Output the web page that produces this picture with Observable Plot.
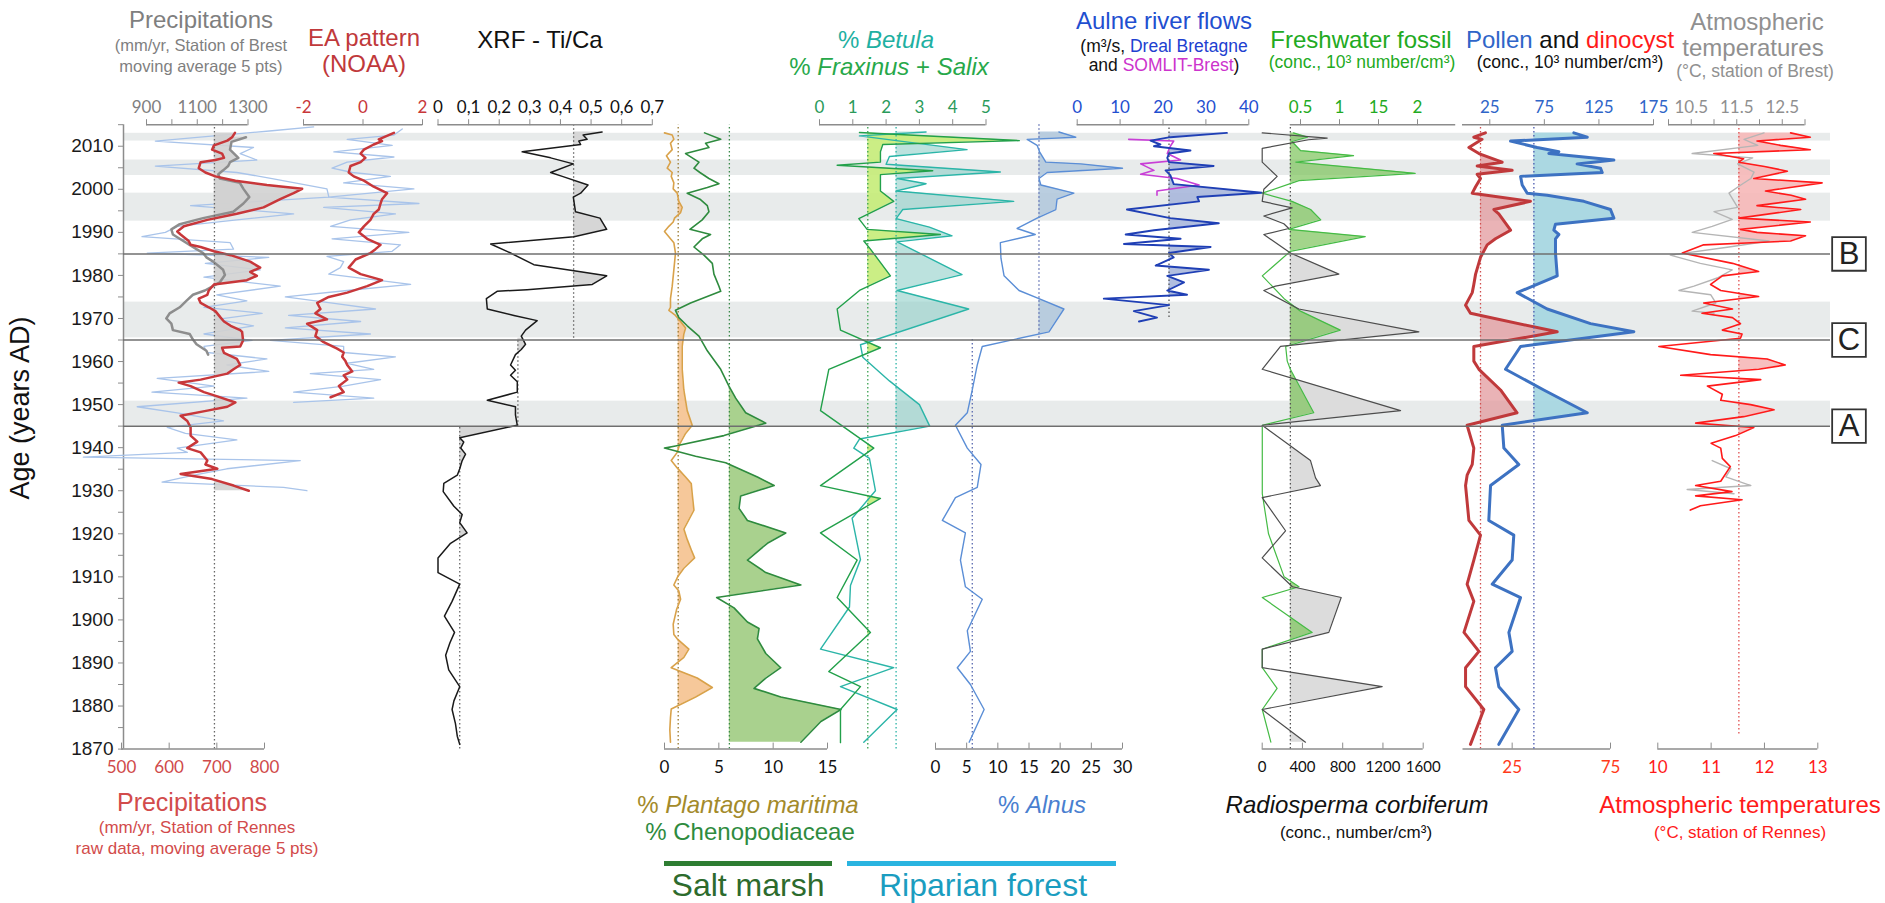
<!DOCTYPE html>
<html><head><meta charset="utf-8">
<script src="https://cdn.jsdelivr.net/npm/d3@7"></script>
<script src="https://cdn.jsdelivr.net/npm/@observablehq/plot@0.6"></script>
<style>
body{margin:0;background:#fff;}
#chart{position:relative;width:1885px;height:903px;overflow:hidden;font-family:"Liberation Sans",Arial,sans-serif;background:#fff;}
#chart svg{position:absolute;left:0;top:0;overflow:visible;}
.t{position:absolute;transform:translate(-50%,-50%);white-space:nowrap;line-height:1;}
.bar{position:absolute;}
</style></head><body><div id="chart"></div>
<script>
// ---------------- DATA ----------------
const yearTicks = [1870,1880,1890,1900,1910,1920,1930,1940,1950,1960,1970,1980,1990,2000,2010];
const yearMinorTicks = [1875,1885,1895,1905,1915,1925,1935,1945,1955,1965,1975,1985,1995,2005,2015];
const bands = [[1945,1950.8],[1965.5,1973.8],[1992.6,1999.1],[2003.2,2006.8],[2011.2,2013]];
const events = [[1945,"A"],[1965,"C"],[1985,"B"]];

const precipRennesTicks = [500,600,700,800];
const precipBrestTicks = [900,1000,1100,1200,1300];
const precipBrestLabels = [900,1100,1300];
const eaTicks = [-2,0,2];
const xrfTicks = [0,0.1,0.2,0.3,0.4,0.5,0.6,0.7];
const xrfTickLabels = ["0","0,1","0,2","0,3","0,4","0,5","0,6","0,7"];
const plantagoTicks = [0,5,10,15];
const betulaTicks = [0,1,2,3,4,5];
const alnusTicks = [0,5,10,15,20,25,30];
const aulneTicks = [0,10,20,30,40];
const freshTicks = [0.5,1,1.5,2];
const freshTickLabels = ["0.5","1","15","2"];
const radioTicks = [0,400,800,1200,1600];
const pollenTicks = [25,75,125,175];
const dinoTicks = [25,75];
const tempBrestTicks = [10,10.5,11,11.5,12,12.5,13];
const tempBrestLabels = [10.5,11.5,12.5];
const tempRennesTicks = [10,11,12,13];

// medians [yearFrom, yearTo, value]
const precipMedian = [[1870,2015,695]];
const xrfMedians = [[1965.4,2015,0.443],[1945,1965.4,0.261],[1870,1945,0.071]];
const plantagoMedian = [[1870,2015,1.26]];
const chenoMedian = [[1870,2015,5.97]];
const fraxMedian = [[1870,2015,1.45]];
const betulaMedian = [[1870,2015,2.3]];
const alnusMedians = [[1965.4,2015,16.6],[1870,1965.4,5.9]];
const aulneMedian = [[1970.2,2015,21.4]];
const radioMedian = [[1870,2015,280]];
const freshMedian = 0.37;
const pollenMedian = [[1870,2015,65.4]];
const dinoMedian = [[1870,2015,8.9]];
const tempMedian = [[1873.5,2015,11.52]];

// series [year, value]
const precipRennes = [[2013.1,738],[2012.1,732],[2011.3,722],[2010.2,694],[2009.2,690],[2008.3,711],[2007.3,715],[2006.8,697],[2006.3,666],[2004.9,662],[2003.9,676],[2003.0,697],[2002.0,739],[2001.0,805],[2000.1,879],[1999.1,861],[1997.7,833],[1995.8,798],[1994.3,742],[1992.9,680],[1991.4,631],[1990.2,617],[1989.5,624],[1988.0,641],[1987.1,645],[1986.6,666],[1985.6,694],[1984.7,729],[1983.2,770],[1981.8,791],[1980.8,770],[1979.9,784],[1978.9,763],[1977.9,694],[1976.5,683],[1975.5,680],[1974.6,662],[1973.6,666],[1972.6,683],[1971.7,697],[1970.2,708],[1969.3,715],[1968.3,729],[1967.3,749],[1966.9,753],[1964.9,755],[1963.5,749],[1963.2,711],[1962.0,715],[1960.6,742],[1959.2,749],[1958.2,735],[1957.2,722],[1955.8,666],[1955.1,620],[1954.3,645],[1952.9,673],[1951.9,701],[1950.5,739],[1949.5,722],[1948.6,680],[1947.4,624],[1946.2,638],[1944.7,645],[1942.8,645],[1941.4,659],[1939.9,638],[1938.9,666],[1937.0,680],[1936.1,676],[1935.1,701],[1933.9,624],[1932.7,690],[1931.2,735],[1930.0,767]];
const precipRennesRaw = [[2014.5,903],[2013.6,816],[2011.2,571],[2009.7,777],[2008.3,749],[2006.8,784],[2005.4,571],[2003.9,742],[2002.5,816],[2000.1,931],[1998.2,935],[1996.2,645],[1994.3,861],[1992.9,742],[1991.4,617],[1990.0,592],[1989.0,543],[1987.6,728],[1986.1,735],[1985.2,554],[1984.2,809],[1982.8,676],[1981.3,791],[1979.6,673],[1977.5,833],[1975.5,700],[1974.1,763],[1972.6,673],[1971.2,795],[1969.8,700],[1968.3,777],[1966.4,673],[1964.9,774],[1963.5,673],[1962.1,680],[1960.6,805],[1959.2,721],[1957.7,809],[1956.1,575],[1954.3,694],[1952.9,564],[1951.5,763],[1949.5,533],[1948.1,617],[1946.2,714],[1944.7,596],[1943.3,634],[1941.8,742],[1939.9,617],[1938.9,638],[1937.8,420],[1937.0,875],[1935.1,721],[1933.6,652],[1932.0,585],[1930.8,840],[1930.0,889]];
const precipBrest = [[2012.1,1292],[2011.0,1235],[2009.2,1229],[2007.3,1262],[2006.3,1229],[2005.4,1222],[2004.4,1202],[2003.5,1183],[2002.5,1189],[2001.5,1268],[2000.1,1282],[1998.2,1305],[1996.7,1282],[1994.8,1242],[1993.3,1123],[1991.9,1031],[1990.7,998],[1989.5,1004],[1988.5,1031],[1987.1,1070],[1986.1,1097],[1985.2,1123],[1984.2,1136],[1983.2,1163],[1981.3,1202],[1980.1,1209],[1978.4,1189],[1976.5,1130],[1975.5,1083],[1974.1,1057],[1972.6,1031],[1971.2,991],[1970.0,978],[1968.8,998],[1967.3,1004],[1966.4,1070],[1965.1,1083],[1964.0,1097],[1962.5,1136],[1961.6,1143]];
const eaSmooth = [[2013.1,1.04],[2011.6,0.53],[2011.2,0.64],[2010.4,0.36],[2009.2,0.03],[2008.3,-0.08],[2007.3,0.08],[2006.3,-0.08],[2005.4,-0.42],[2003.9,-0.48],[2003.0,-0.31],[2002.0,0.03],[2000.6,0.36],[1999.1,0.81],[1997.7,0.64],[1996.7,0.59],[1995.3,0.53],[1994.3,0.36],[1992.9,0.25],[1991.4,0.03],[1990.0,-0.14],[1988.5,0.14],[1987.1,0.59],[1986.1,0.42],[1985.2,0.25],[1983.7,-0.25],[1981.8,-0.48],[1980.3,-0.08],[1978.9,0.64],[1977.5,0.14],[1976.0,-0.53],[1975.0,-1.15],[1973.6,-1.54],[1972.2,-1.43],[1971.2,-1.60],[1969.8,-1.21],[1968.8,-1.88],[1967.3,-1.54],[1965.9,-1.60],[1964.5,-1.32],[1963.0,-0.87],[1962.1,-0.65],[1961.1,-0.70],[1960.1,-0.59],[1959.2,-0.53],[1957.7,-0.36],[1956.8,-0.65],[1955.8,-0.53],[1954.3,-0.81],[1952.9,-0.65],[1951.7,-1.09]];
const eaRaw = [[2014.0,1.32],[2012.6,1.04],[2011.6,-0.53],[2010.2,0.98],[2008.7,-0.98],[2007.5,1.04],[2006.3,-0.53],[2004.9,-1.04],[2003.9,-0.36],[2003.0,0.92],[2001.5,-0.65],[2000.1,1.71],[1998.2,-1.15],[1996.7,1.88],[1995.8,-1.32],[1994.3,1.09],[1992.9,-0.42],[1991.4,-1.09],[1990.0,1.54],[1988.5,-1.04],[1987.1,1.26],[1985.6,0.98],[1984.4,-1.21],[1983.2,-0.65],[1981.8,-0.76],[1980.3,-1.15],[1977.9,1.60],[1976.5,-0.53],[1975.0,-2.61],[1973.6,-1.09],[1972.2,0.42],[1970.7,-2.50],[1969.3,-0.08],[1967.8,-2.61],[1966.4,0.25],[1964.9,-3.11],[1963.5,-0.65],[1962.1,-0.65],[1961.1,1.09],[1959.6,-0.53],[1958.2,0.36],[1957.2,-1.77],[1955.8,0.59],[1954.3,-0.65],[1952.9,-2.33],[1951.5,0.36],[1950.5,-2.33]];
const xrf = [[2013.3,0.536],[2012.6,0.474],[2011.6,0.487],[2011.2,0.460],[2010.4,0.466],[2008.7,0.275],[2007.3,0.368],[2005.9,0.442],[2003.9,0.368],[2003.0,0.406],[2001.0,0.490],[1999.1,0.466],[1998.2,0.442],[1994.8,0.449],[1993.3,0.529],[1990.7,0.551],[1989.0,0.444],[1987.3,0.172],[1985.2,0.237],[1982.5,0.313],[1981.1,0.444],[1979.9,0.551],[1977.9,0.504],[1976.7,0.291],[1976.3,0.193],[1974.6,0.158],[1972.2,0.161],[1970.7,0.248],[1969.5,0.324],[1967.3,0.286],[1965.9,0.272],[1964.0,0.286],[1962.8,0.272],[1961.6,0.253],[1959.2,0.237],[1958.0,0.253],[1956.8,0.237],[1955.3,0.259],[1952.9,0.259],[1951.0,0.161],[1949.5,0.253],[1947.6,0.253],[1945.2,0.259],[1942.3,0.071],[1941.3,0.084],[1939.9,0.074],[1938.5,0.090],[1937.0,0.079],[1935.1,0.071],[1933.6,0.063],[1931.7,0.019],[1929.8,0.017],[1926.4,0.052],[1924.5,0.079],[1922.6,0.071],[1920.2,0.095],[1917.8,0.041],[1914.4,0.0],[1911.0,0.0],[1908.3,0.071],[1904.3,0.046],[1900.9,0.021],[1897.1,0.054],[1894.7,0.039],[1891.8,0.025],[1888.4,0.035],[1884.5,0.071],[1881.2,0.052],[1879.2,0.046],[1875.9,0.057],[1873.0,0.063],[1871.1,0.071]];
const plantago = [[2013.1,0.0],[2012.6,0.71],[2011.6,0.86],[2010.7,0.55],[2009.2,0.71],[2007.8,0.18],[2006.3,0.55],[2004.9,0.25],[2003.9,0.71],[2003.0,0.62],[2001.5,0.86],[2000.1,0.8],[1999.1,1.17],[1997.2,1.32],[1995.8,1.63],[1994.6,1.48],[1993.3,0.92],[1992.4,0.80],[1991.4,0.4],[1990.2,0.0],[1989.0,0.4],[1987.6,0.86],[1985.2,1.01],[1981.3,0.86],[1977.5,0.71],[1974.6,0.55],[1972.6,0.55],[1971.9,0.4],[1970.7,1.01],[1969.3,1.48],[1967.8,1.94],[1966.4,1.78],[1963.5,1.63],[1958.2,1.63],[1953.4,1.78],[1948.6,2.09],[1945.2,2.55],[1943.3,1.94],[1940.9,1.41],[1938.9,1.17],[1937.0,0.62],[1935.3,1.17],[1933.2,1.94],[1931.7,2.46],[1929.3,2.55],[1925.5,2.71],[1921.1,1.78],[1918.7,2.09],[1916.3,2.46],[1914.4,2.77],[1912.0,1.78],[1910.1,1.23],[1908.1,0.86],[1906.7,1.32],[1904.8,1.48],[1902.4,1.11],[1899.0,0.8],[1896.6,0.86],[1895.6,1.17],[1893.2,2.24],[1891.3,1.78],[1888.9,0.62],[1886.5,3.01],[1884.3,4.4],[1882.1,2.86],[1879.3,0.62],[1877.3,0.55],[1874.5,0.49],[1871.6,0.55]];
const cheno = [[2013.1,3.69],[2011.6,5.17],[2010.7,3.78],[2009.7,4.09],[2008.3,1.94],[2006.3,3.17],[2004.9,2.71],[2003.9,3.26],[2002.5,4.09],[2001.3,5.01],[2000.4,3.94],[1999.1,2.09],[1997.7,3.26],[1996.2,3.94],[1994.8,4.09],[1992.9,3.47],[1990.7,2.34],[1989.5,4.24],[1988.5,3.47],[1986.6,2.71],[1984.7,3.63],[1982.8,4.4],[1980.3,4.55],[1977.5,5.01],[1976.3,5.17],[1973.6,2.4],[1971.9,1.01],[1970.2,1.32],[1968.3,2.09],[1965.9,3.17],[1962.5,3.94],[1958.2,5.17],[1954.3,5.93],[1951.5,6.55],[1948.1,7.47],[1945.7,9.32],[1942.8,5.47],[1940.4,1.01],[1939.9,0.0],[1938.0,2.86],[1936.5,5.63],[1935.1,6.86],[1933.2,8.55],[1931.2,10.09],[1928.8,7.01],[1925.9,6.86],[1923.1,7.63],[1920.2,11.16],[1917.8,9.47],[1913.9,7.63],[1911.0,9.32],[1908.1,12.55],[1905.2,4.8],[1902.8,6.4],[1899.5,7.63],[1898.0,8.7],[1895.6,8.55],[1892.2,9.32],[1888.9,10.7],[1886.5,9.32],[1884.1,8.24],[1882.1,10.7],[1879.2,16.24],[1876.4,14.39],[1871.6,12.55]];
const fraxinus = [[2013.2,1.2],[2011.3,6.0],[2010.4,1.9],[2008.7,1.83],[2006.3,1.83],[2005.6,0.53],[2004.3,3.4],[2003.4,1.83],[1999.6,1.83],[1997.2,2.23],[1993.2,1.18],[1990.7,1.43],[1989.5,3.63],[1988.0,1.33],[1986.1,1.53],[1979.9,2.13],[1976.5,1.2],[1972.2,0.53],[1967.3,0.63],[1963.2,1.83],[1958.2,0.28],[1948.6,0.03],[1939.9,1.63],[1931.2,0.03],[1928.2,1.83],[1920.2,0.03],[1913.9,1.13],[1905.2,0.53],[1897.1,1.53],[1888.0,0.28],[1884.5,1.23],[1879.2,0.63],[1871.5,0.63]];
const betula = [[2013.3,3.2],[2012.4,1.2],[2011.0,2.6],[2009.2,4.43],[2007.6,2.1],[2005.8,2.0],[2004.0,5.43],[2002.5,2.33],[2001.3,3.2],[1999.6,2.3],[1997.2,5.83],[1995.3,2.5],[1993.2,2.3],[1991.2,3.3],[1989.2,3.98],[1987.8,2.33],[1980.2,4.28],[1976.5,2.33],[1972.2,4.48],[1963.9,1.23],[1961.0,1.3],[1955.5,2.1],[1950.0,3.0],[1945.0,3.31],[1942.0,1.2],[1939.9,1.03],[1937.5,1.5],[1930.0,1.68],[1923.6,0.98],[1914.0,1.23],[1908.0,0.93],[1903.0,0.9],[1893.2,0.03],[1888.9,2.23],[1884.5,0.63],[1879.2,2.33],[1871.6,1.33]];
const alnus = [[2013.3,19.8],[2012.1,22.5],[2011.6,14.7],[2010.2,16.3],[2008.7,16.7],[2006.3,17.7],[2005.9,23.3],[2004.9,30.0],[2003.9,17.9],[2002.5,16.6],[2001.0,16.9],[1999.1,22.2],[1997.7,19.5],[1995.3,19.3],[1993.3,16.3],[1990.9,13.1],[1989.5,16.0],[1987.6,10.4],[1984.0,10.5],[1979.9,11.0],[1976.5,13.4],[1974.6,16.6],[1972.2,20.6],[1966.9,18.2],[1963.5,7.5],[1959.2,6.7],[1953.4,5.9],[1948.1,5.1],[1945.2,3.2],[1939.9,5.1],[1936.1,7.3],[1930.8,6.7],[1928.4,3.2],[1923.1,1.1],[1920.2,4.8],[1913.9,4.0],[1907.7,4.8],[1904.8,7.5],[1897.5,5.1],[1892.7,5.6],[1888.9,3.5],[1885.0,5.6],[1879.2,7.8],[1871.6,5.4]];
const aulneDreal = [[2013.1,34.9],[2012.1,21.7],[2011.3,17.1],[2010.4,19.4],[2010.0,17.9],[2009.0,26.4],[2008.3,21.4],[2007.3,21.0],[2006.3,21.4],[2005.4,31.8],[2004.4,20.6],[2003.3,21.7],[2001.2,22.5],[1999.2,43.0],[1998.2,28.0],[1997.2,28.4],[1995.3,11.6],[1993.3,21.7],[1992.1,33.0],[1990.5,17.9],[1989.5,11.3],[1988.5,24.1],[1987.3,10.9],[1986.6,31.1],[1985.2,21.4],[1984.2,22.5],[1982.3,18.3],[1981.3,30.7],[1979.9,21.0],[1978.4,24.9],[1976.5,21.0],[1975.5,25.6],[1974.6,6.2],[1973.1,21.4],[1971.7,13.2],[1970.2,18.6],[1969.3,14.4]];
const aulneSomlit = [[2011.6,12.0],[2011.2,22.5],[2010.0,21.7],[2008.3,21.0],[2006.8,24.1],[2005.9,14.8],[2004.4,17.9],[2003.5,14.8],[2002.5,23.3],[2001.0,28.4],[1999.6,18.6],[1998.6,18.6]];
const freshwater = [[2013.1,0.41],[2012.1,0.59],[2011.1,0.39],[2009.0,0.50],[2007.8,1.18],[2006.3,0.44],[2003.7,1.97],[2002.0,0.48],[1999.1,0.01],[1997.2,0.39],[1995.3,0.63],[1992.9,0.76],[1990.7,0.35],[1989.0,1.33],[1985.6,0.37],[1979.9,0.01],[1974.6,0.29],[1971.7,0.50],[1967.3,1.01],[1963.5,0.31],[1960.1,0.33],[1958.2,0.37],[1948.1,0.67],[1945.2,0.01],[1929.3,0.01],[1920.0,0.09],[1910.0,0.29],[1907.7,0.48],[1905.2,0.01],[1897.1,0.65],[1893.2,0.01],[1888.9,0.01],[1884.1,0.2],[1879.2,0.01],[1871.6,0.12]];
const radiosperma = [[2013.1,0],[2011.9,646],[2011.5,460],[2009.5,0],[2006.3,0],[2003.0,149],[2000.0,16],[1997.2,0],[1995.7,298],[1993.8,16],[1992.0,215],[1990.9,264],[1989.5,16],[1985.2,281],[1980.3,762],[1977.5,132],[1976.5,16],[1972.2,364],[1966.9,1557],[1963.5,182],[1958.2,0],[1948.6,1375],[1945.2,0],[1937.0,480],[1933.0,530],[1931.2,579],[1928.4,0],[1920.7,232],[1914.4,0],[1907.7,300],[1905.2,785],[1897.1,662],[1893.2,0],[1888.9,0],[1884.5,1192],[1879.2,0],[1871.6,430]];
const pollen = [[2013.1,102],[2012.1,114.3],[2011.2,44],[2009.7,68.4],[2008.7,88.3],[2008.3,79.1],[2006.8,138.7],[2005.9,105],[2004.9,126.5],[2003.9,128],[2003.0,53.2],[2001.0,54.7],[1999.1,59.3],[1998.6,77.6],[1997.2,111.2],[1995.3,135.6],[1993.3,138.7],[1991.9,85.2],[1990.5,83.7],[1989.5,88.3],[1988.5,85.2],[1985.2,85.2],[1979.9,86.8],[1976.0,50.1],[1972.2,77.6],[1968.8,117.3],[1966.9,157],[1963.5,53.2],[1958.2,39.4],[1953.4,74.5],[1948.1,114.3],[1945.2,36.4],[1939.9,37.9],[1936.1,51.6],[1931.2,25.7],[1923.1,24.1],[1919.7,47],[1913.9,45.5],[1908.3,27.2],[1905.2,53.2],[1897.1,42.5],[1892.7,45.5],[1888.9,30.2],[1884.5,33.3],[1879.2,51.6],[1871.1,33.3]];
const dinocyst = [[2013.1,11.4],[2012.1,5.5],[2011.6,9.7],[2009.7,3.0],[2008.3,8.1],[2006.3,19.9],[2005.4,7.2],[2004.4,25],[2003.5,7.2],[2002.5,8.9],[2000.6,6.4],[1999.1,4.7],[1997.2,34.3],[1995.3,15.7],[1994.3,18.2],[1990.5,24.2],[1988.5,16.5],[1987.1,12.3],[1984.2,8.9],[1980.3,6.4],[1977.9,5.5],[1976.0,4.7],[1973.1,1.3],[1971.2,3.8],[1966.9,47.9],[1963.5,5.5],[1960.1,5.5],[1958.2,8.1],[1953.4,19.1],[1948.1,27.5],[1945.2,2.1],[1939.9,5.5],[1936.1,4.7],[1933.6,2.1],[1931.2,1.3],[1923.1,3.0],[1919.7,8.9],[1913.9,5.5],[1908.3,2.1],[1904.3,5.5],[1897.1,0.5],[1892.7,8.1],[1888.9,1.3],[1884.5,1.3],[1879.2,10.6],[1871.1,3.8]];
const tempRennes = [[2013.1,12.49],[2012.1,12.86],[2011.2,11.86],[2010.2,12.3],[2009.2,12.86],[2008.3,11.05],[2007.1,11.61],[2006.3,11.52],[2005.3,12.0],[2004.2,12.43],[2002.5,11.8],[2001.5,13.08],[1999.6,12.02],[1998.6,12.5],[1997.7,12.77],[1996.2,11.86],[1995.3,12.68],[1993.3,11.52],[1992.4,12.86],[1990.7,11.55],[1990.0,11.86],[1989.2,12.77],[1988.0,12.49],[1987.1,10.86],[1985.2,10.46],[1982.8,11.4],[1980.9,11.89],[1979.9,11.21],[1977.9,10.99],[1976.5,11.18],[1975.1,11.89],[1973.6,10.86],[1972.2,11.4],[1971.2,10.83],[1970.2,11.4],[1968.8,11.55],[1967.3,11.21],[1966.4,11.58],[1965.4,11.55],[1963.5,10.02],[1961.6,10.99],[1960.6,12.05],[1959.2,12.39],[1958.2,11.89],[1956.8,10.43],[1955.8,11.93],[1954.3,10.93],[1952.4,11.21],[1951.0,11.18],[1950.0,11.74],[1948.8,12.18],[1947.2,11.61],[1945.7,10.71],[1944.7,11.8],[1942.8,11.46],[1941.0,11.0],[1939.9,11.18],[1937.5,11.21],[1935.6,11.36],[1932.2,11.18],[1931.2,10.71],[1929.8,11.39],[1928.8,10.71],[1927.9,11.58],[1926.5,10.8],[1925.5,10.61]];
const tempBrest = [[2013.1,12.1],[2011.6,11.66],[2010.2,11.96],[2008.3,10.52],[2007.3,11.85],[2005.9,11.52],[2004.0,11.88],[2002.5,11.81],[2001.0,11.59],[1999.1,11.33],[1997.2,11.44],[1995.8,11.52],[1994.8,11.0],[1993.0,11.4],[1991.4,10.96],[1990.0,10.52],[1988.0,12.21],[1986.6,11.33],[1984.7,10.04],[1982.8,10.7],[1981.3,11.4],[1979.4,11.07],[1977.5,10.56],[1976.5,10.23],[1975.5,10.93],[1973.6,11.04],[1971.7,10.52],[1971.2,11.0]];
const tempBrestEarly = [[1937.0,10.96],[1935.1,11.37],[1933.2,11.26],[1931.2,11.81],[1930.3,10.41],[1929.3,11.44]];

// ---------------- HELPERS ----------------
const W = 1885, H = 903, MT = 124.2, MB = H - 748.6;
const FONT = "Lato, 'Liberation Sans', sans-serif";
const AX = "#8c8c8c";
const chart = document.getElementById("chart");

function P(dom, rng, marks) {
  const svg = Plot.plot({
    width: W, height: H, marginTop: MT, marginBottom: MB,
    marginLeft: rng[0], marginRight: W - rng[1],
    x: {domain: dom, axis: null},
    y: {domain: [1870, 2015], axis: null},
    style: {background: "transparent", overflow: "visible", fontFamily: FONT, fontSize: "17px", color: "#111"},
    marks
  });
  chart.appendChild(svg);
}
function line(data, stroke, w) {
  return Plot.lineX(data, {x: d => d[1], y: d => d[0], stroke, strokeWidth: w, curve: "linear", strokeLinejoin: "round"});
}
function medianRule(meds, stroke) {
  return Plot.ruleX(meds, {x: d => d[2], y1: d => d[0], y2: d => d[1], stroke, strokeWidth: 1.3, strokeDasharray: "1.5,2.5"});
}
// polygon above a baseline, within [y0,y1]; crossing points computed from the series
function aboveArea(series, base, y0, y1) {
  const s = series.slice().sort((a, b) => a[0] - b[0]);
  const lo = Math.max(y0, s[0][0]), hi = Math.min(y1, s[s.length - 1][0]);
  if (lo >= hi) return [];
  const f = y => {
    for (let i = 0; i < s.length - 1; i++) {
      if (y >= s[i][0] && y <= s[i + 1][0]) {
        const t = (y - s[i][0]) / (s[i + 1][0] - s[i][0] || 1);
        return s[i][1] + t * (s[i + 1][1] - s[i][1]);
      }
    }
    return y < s[0][0] ? s[0][1] : s[s.length - 1][1];
  };
  const ys = [lo, ...s.map(d => d[0]).filter(y => y > lo && y < hi), hi];
  const out = [];
  for (let i = 0; i < ys.length; i++) {
    const y = ys[i], v = f(y);
    if (i > 0) {
      const yp = ys[i - 1], vp = f(yp);
      if ((vp - base) * (v - base) < 0) {
        const t = (base - vp) / (v - vp);
        out.push({y: yp + t * (y - yp), x1: base, x2: base});
      }
    }
    out.push({y, x1: base, x2: Math.max(v, base)});
  }
  return out;
}
function fills(series, meds, fill, opacity = 1) {
  return meds.map(m => Plot.areaX(aboveArea(series, m[2], m[0], m[1]), {y: "y", x1: "x1", x2: "x2", fill, fillOpacity: opacity, curve: "linear"}));
}
function topAxis(ticks, labels, fmt, color, bar, fs = 17) {
  return [
    Plot.ruleY([2015], {x1: bar[0], x2: bar[1], stroke: AX, strokeWidth: 1.5}),
    Plot.axisX(ticks, {anchor: "top", tickSize: 6, stroke: AX, tickFormat: () => "", label: null}),
    Plot.axisX(labels, {anchor: "top", tickSize: 0, tickPadding: 12, fill: color, fontSize: fs, tickFormat: fmt, label: null})
  ];
}
function bottomAxis(ticks, labels, fmt, color, bar, fs = 17) {
  return [
    Plot.ruleY([1870], {x1: bar[0], x2: bar[1], stroke: AX, strokeWidth: 1.5}),
    Plot.axisX(ticks, {anchor: "bottom", tickSize: -6, stroke: AX, tickFormat: () => "", label: null}),
    Plot.axisX(labels, {anchor: "bottom", tickSize: 0, tickPadding: 12, fill: color, fontSize: fs, tickFormat: fmt, label: null})
  ];
}
const num = d => String(d);

// ---------------- BACKGROUND + Y AXIS ----------------
P([0, 1], [123, 1830], [
  Plot.rect(bands, {x1: 0, x2: 1, y1: d => d[0], y2: d => d[1], fill: "#e8ebeb"}),
  Plot.ruleX([0], {y1: 1870, y2: 2015, stroke: AX, strokeWidth: 1.5}),
  Plot.axisY(yearTicks, {anchor: "left", tickSize: 5, tickPadding: 5, stroke: AX, fill: "#1a1a1a", fontSize: 19, fontFamily: "'Liberation Sans', Arial, sans-serif", tickFormat: num, label: null}),
  Plot.axisY(yearMinorTicks, {anchor: "left", tickSize: 5, stroke: AX, tickFormat: () => "", label: null})
]);

// ---------------- PRECIPITATIONS ----------------
P([500, 800], [121, 264], [
  line(precipRennesRaw, "#a9c4ea", 1.3),
  ...fills(precipRennes, [[1929, 2015, 695]], "#d2d2d2", 0.9)
]);
P([900, 1300], [146, 247.5], [
  ...fills(precipBrest, [[1960, 2015, 1167]], "#d2d2d2", 0.9),
  line(precipBrest, "#8d8d8d", 2.5),
  ...topAxis(precipBrestTicks, precipBrestLabels, num, "#808080", [900, 1300])
]);
P([500, 800], [121, 264], [
  medianRule(precipMedian, "#666"),
  line(precipRennes, "#c8373a", 2.5),
  ...bottomAxis(precipRennesTicks, precipRennesTicks, num, "#d04a4a", [500, 800])
]);

// ---------------- EA PATTERN ----------------
P([-2, 2], [303, 422], [
  line(eaRaw, "#a9c4ea", 1.3),
  line(eaSmooth, "#c8373a", 2.5),
  ...topAxis(eaTicks, eaTicks, num, "#c8373a", [-2, 2])
]);

// ---------------- XRF ----------------
P([0, 0.7], [437.5, 651.8], [
  ...fills(xrf, xrfMedians, "#d6d6d6"),
  medianRule(xrfMedians, "#666"),
  line(xrf, "#1a1a1a", 1.5),
  ...topAxis(xrfTicks, xrfTicks, d => xrfTickLabels[xrfTicks.indexOf(d)], "#111", [0, 0.7])
]);

// ---------------- PLANTAGO / CHENOPODIACEAE ----------------
P([0, 15], [664, 827], [
  ...fills(plantago, plantagoMedian, "#f6c89a"),
  ...fills(cheno, chenoMedian, "#a9d18e"),
  medianRule(plantagoMedian, "#9a7a30"),
  medianRule(chenoMedian, "#3a8a4a"),
  line(plantago, "#d9a24a", 1.6),
  line(cheno, "#2e8b3e", 1.6),
  ...bottomAxis(plantagoTicks, plantagoTicks, num, "#111", [0, 15])
]);

// ---------------- BETULA / FRAXINUS+SALIX ----------------
P([0, 5], [819, 985.5], [
  ...fills(betula, betulaMedian, "#8fcfc8", 0.6),
  ...fills(fraxinus, fraxMedian, "#c5ec78", 0.9),
  medianRule(fraxMedian, "#3aa050"),
  medianRule(betulaMedian, "#2ab3a6"),
  line(betula, "#2bb5a8", 1.4),
  line(fraxinus, "#22a04a", 1.4),
  ...topAxis(betulaTicks, betulaTicks, num, "#2a9a5a", [0, 5])
]);

// ---------------- ALNUS ----------------
P([0, 30], [935, 1122], [
  ...fills(alnus, [alnusMedians[0]], "#b3c9dd", 0.9),
  medianRule(alnusMedians, "#5a6ab0"),
  line(alnus, "#5b8ed6", 1.4),
  ...bottomAxis(alnusTicks, alnusTicks, num, "#111", [0, 30])
]);

// ---------------- AULNE RIVER FLOWS ----------------
P([0, 40], [1076.7, 1248.3], [
  ...fills(aulneDreal, aulneMedian, "#a9b7db", 0.9),
  medianRule(aulneMedian, "#555"),
  line(aulneSomlit, "#c83fd6", 1.6),
  line(aulneDreal, "#1f3fb5", 1.9),
  ...topAxis(aulneTicks, aulneTicks, num, "#1f4fd0", [0, 40])
]);

// ---------------- RADIOSPERMA / FRESHWATER FOSSIL ----------------
P([0, 1600], [1261.7, 1422.7], [
  ...fills(radiosperma, radioMedian, "#dcdcdc"),
  ...bottomAxis(radioTicks, radioTicks, num, "#111", [0, 1600], 15)
]);
P([0, 2.5], [1261, 1456], [
  ...fills(freshwater, [[1870, 2015, freshMedian]], "#7cc35a", 0.7),
  Plot.ruleX([freshMedian], {y1: 1870, y2: 2015, stroke: "#555", strokeWidth: 1.3, strokeDasharray: "1.5,2.5"}),
  line(freshwater, "#45bb45", 1.2),
  ...topAxis(freshTicks, freshTicks, d => freshTickLabels[freshTicks.indexOf(d)], "#22aa22", [freshMedian, 2.49])
]);
P([0, 1600], [1261.7, 1422.7], [
  line(radiosperma, "#4d4d4d", 1.2)
]);

// ---------------- POLLEN / DINOCYST ----------------
P([0, 175], [1462, 1653], [
  ...fills(pollen, pollenMedian, "#a8d7e2", 0.95)
]);
P([0, 75], [1462.5, 1610], [
  ...fills(dinocyst, dinoMedian, "#e39a9e", 0.75),
  medianRule(dinoMedian, "#d05050"),
  line(dinocyst, "#c0393b", 3),
  ...bottomAxis(dinoTicks, dinoTicks, num, "#ff3a1a", [0, 75])
]);
P([0, 175], [1462, 1653], [
  medianRule(pollenMedian, "#4a5ab0"),
  line(pollen, "#3d72c2", 3),
  ...topAxis(pollenTicks, pollenTicks, num, "#2f65c8", [0, 175])
]);

// ---------------- TEMPERATURES ----------------
P([10, 13], [1657.3, 1817.3], [
  ...fills(tempRennes, tempMedian, "#f6b8b8", 0.9),
  medianRule(tempMedian, "#e05050")
]);
P([10, 13], [1668, 1804.5], [
  line(tempBrest, "#b5b5b5", 1.4),
  line(tempBrestEarly, "#b5b5b5", 1.4),
  ...topAxis(tempBrestTicks, tempBrestLabels, num, "#8f8f8f", [10, 13])
]);
P([10, 13], [1657.3, 1817.3], [
  line(tempRennes, "#ff1a1a", 1.6),
  ...bottomAxis(tempRennesTicks, tempRennesTicks, num, "#ff1a1a", [10, 13])
]);

// ---------------- EVENT LINES A/B/C ----------------
P([0, 1], [123, 1830], [
  Plot.ruleY(events, {y: d => d[0], x1: 0, x2: 1, stroke: "#6f6f6f", strokeWidth: 1.5}),
  Plot.dot(events, {y: d => d[0], x: 1, dx: 18.5, symbol: "square", r: 19, fill: "white", stroke: "#333", strokeWidth: 1.8}),
  Plot.text(events, {y: d => d[0], x: 1, dx: 18.5, text: d => d[1], fontSize: 31, fontFamily: "'Liberation Sans', Arial, sans-serif", fill: "#222"})
]);

// ---------------- TEXT ----------------
const texts = [
  [201, 20, 24, "#7f7f7f", "Precipitations"],
  [201, 45, 16.5, "#7f7f7f", "(mm/yr, Station of Brest"],
  [201, 66, 16.5, "#7f7f7f", "moving average 5 pts)"],
  [364, 38, 24, "#c0393b", "EA pattern"],
  [364, 64, 24, "#c0393b", "(NOAA)"],
  [540, 40, 24, "#111", "XRF - Ti/Ca"],
  [886, 40, 24, "#1fb0a2", "% <i>Betula</i>"],
  [889, 67, 24, "#27a84a", "% <i>Fraxinus</i> + <i>Salix</i>"],
  [1164, 21, 24, "#1f4fd0", "Aulne river flows"],
  [1164, 47, 17.5, "#111", "(m³/s, <span style='color:#2040d0'>Dreal Bretagne</span>"],
  [1164, 66, 17.5, "#111", "and <span style='color:#cc33cc'>SOMLIT-Brest</span>)"],
  [1361, 40, 24, "#22aa22", "Freshwater fossil"],
  [1362, 63, 17.5, "#22aa22", "(conc., 10³ number/cm³)"],
  [1570, 40, 24, "#111", "<span style='color:#2f65c8'>Pollen</span> and <span style='color:#ff1a1a'>dinocyst</span>"],
  [1570, 63, 17.5, "#111", "(conc., 10³ number/cm³)"],
  [1757, 22, 24, "#909090", "Atmospheric"],
  [1753, 48, 24, "#909090", "temperatures"],
  [1755, 72, 17.5, "#909090", "(°C, station of Brest)"],
  [192, 802, 25, "#d24b4b", "Precipitations"],
  [197, 827, 17, "#d24b4b", "(mm/yr, Station of Rennes"],
  [197, 848, 17, "#d24b4b", "raw data, moving average 5 pts)"],
  [748, 805, 24, "#a38a2a", "% <i>Plantago maritima</i>"],
  [750, 832, 24, "#2e8b3e", "% Chenopodiaceae"],
  [748, 885, 32, "#2d6b2d", "Salt marsh"],
  [983, 885, 32, "#1b9dc0", "Riparian forest"],
  [1042, 805, 24, "#4a7fd0", "% <i>Alnus</i>"],
  [1357, 805, 24, "#111", "<i>Radiosperma corbiferum</i>"],
  [1356, 832, 17, "#111", "(conc., number/cm³)"],
  [1740, 805, 24, "#ff1a1a", "Atmospheric temperatures"],
  [1740, 832, 17, "#ff1a1a", "(°C, station of Rennes)"]
];
for (const [x, y, s, c, h] of texts) {
  const d = document.createElement("div");
  d.className = "t";
  d.style.left = x + "px"; d.style.top = y + "px";
  d.style.fontSize = s + "px"; d.style.color = c;
  d.innerHTML = h;
  chart.appendChild(d);
}
const yl = document.createElement("div");
yl.className = "t";
yl.style.cssText = "left:20px;top:408px;font-size:27px;color:#111;transform:translate(-50%,-50%) rotate(-90deg);";
yl.textContent = "Age (years AD)";
chart.appendChild(yl);

const barsDef = [[664, 168, "#2e7d32"], [847, 269, "#2ab4e0"]];
for (const [l, w, c] of barsDef) {
  const b = document.createElement("div");
  b.className = "bar";
  b.style.cssText = `left:${l}px;width:${w}px;top:861px;height:5px;background:${c};`;
  chart.appendChild(b);
}
</script></body></html>
